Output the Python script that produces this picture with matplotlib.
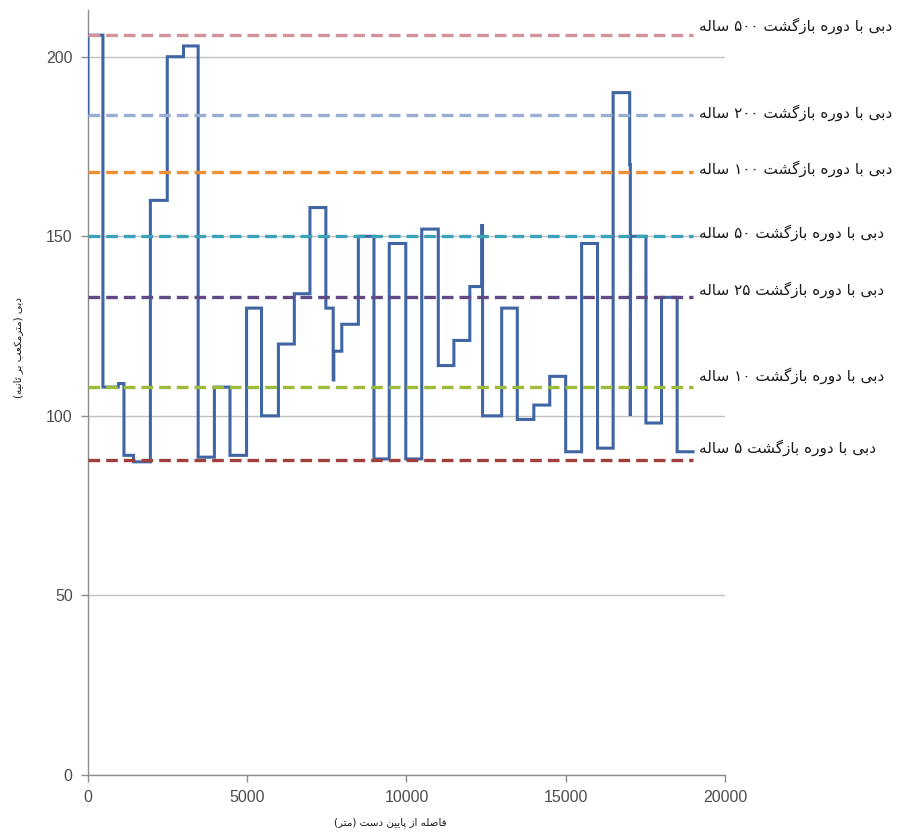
import matplotlib
matplotlib.use("Agg")
import matplotlib.pyplot as plt

# step profile of discharge along the reach
distance = [0, 0, 470, 470, 950, 960, 1130, 1130, 1430, 1430, 1960, 1960,
            2490, 2490, 3000, 3000, 3460, 3460, 3970, 3970, 4460, 4460,
            4980, 4980, 5450, 5450, 5980, 5980, 6480, 6480, 6970, 6970,
            7470, 7470, 7700, 7700, 7720, 7720, 7970, 7970, 8490, 8490,
            8980, 8980, 9460, 9460, 9980, 9980, 10480, 10480, 11000, 11000,
            11490, 11490, 11990, 11990, 12360, 12360, 12390, 12390, 12990,
            12990, 13480, 13480, 14000, 14000, 14500, 14500, 15000, 15000,
            15500, 15500, 16000, 16000, 16490, 16490, 17010, 17010, 17030,
            17030, 17040, 17520, 17520, 18010, 18010, 18500, 18500, 19000]
discharge = [184, 206, 206, 108, 108, 109, 109, 89, 89, 87.2, 87.2, 160,
             160, 200, 200, 203, 203, 88.5, 88.5, 108, 108, 89,
             89, 130, 130, 100, 100, 120, 120, 134, 134, 158,
             158, 130, 130, 110, 110, 118, 118, 125.5, 125.5, 150,
             150, 88, 88, 148, 148, 88, 88, 152, 152, 114,
             114, 121, 121, 136, 136, 153, 153, 100, 100,
             130, 130, 99, 99, 103, 103, 111, 111, 90,
             90, 148, 148, 91, 91, 190, 190, 170, 170,
             100, 150, 150, 98, 98, 133, 133, 90, 90]

# design discharges for return periods
return_periods = ["۵۰۰", "۲۰۰", "۱۰۰", "۵۰", "۲۵", "۱۰", "۵"]
design_q = [206.1, 183.9, 168.0, 150.0, 133.2, 107.9, 87.6]
line_end = 19000

line_colors = ["#d4939a", "#9aaed4", "#ef8f33", "#3aa3b8", "#5f4a86",
               "#9dbb3a", "#a13f3c"]
label_dy = [2.6, 0.5, 0.8, 1.0, 1.8, 3.4, 3.4]


# ---- minimal Persian shaping (presentation forms + visual order) ----
FORMS = {
    "ا": ("\uFE8D", "\uFE8E"), "د": ("\uFEA9", "\uFEAA"),
    "ر": ("\uFEAD", "\uFEAE"), "ز": ("\uFEAF", "\uFEB0"),
    "و": ("\uFEED", "\uFEEE"),
    "ب": ("\uFE8F", "\uFE90", "\uFE91", "\uFE92"),
    "ت": ("\uFE95", "\uFE96", "\uFE97", "\uFE98"),
    "ث": ("\uFE99", "\uFE9A", "\uFE9B", "\uFE9C"),
    "س": ("\uFEB1", "\uFEB2", "\uFEB3", "\uFEB4"),
    "ش": ("\uFEB5", "\uFEB6", "\uFEB7", "\uFEB8"),
    "ص": ("\uFEB9", "\uFEBA", "\uFEBB", "\uFEBC"),
    "ع": ("\uFEC9", "\uFECA", "\uFECB", "\uFECC"),
    "ف": ("\uFED1", "\uFED2", "\uFED3", "\uFED4"),
    "ل": ("\uFEDD", "\uFEDE", "\uFEDF", "\uFEE0"),
    "م": ("\uFEE1", "\uFEE2", "\uFEE3", "\uFEE4"),
    "ن": ("\uFEE5", "\uFEE6", "\uFEE7", "\uFEE8"),
    "ه": ("\uFEE9", "\uFEEA", "\uFEEB", "\uFEEC"),
    "پ": ("\uFB56", "\uFB57", "\uFB58", "\uFB59"),
    "ک": ("\uFB8E", "\uFB8F", "\uFB90", "\uFB91"),
    "گ": ("\uFB92", "\uFB93", "\uFB94", "\uFB95"),
    "ی": ("\uFBFC", "\uFBFD", "\uFBFE", "\uFBFF"),
}


def fa(text):
    out = []
    for i, ch in enumerate(text):
        if ch not in FORMS:
            out.append(ch)
            continue
        f = FORMS[ch]
        prev = text[i - 1] if i > 0 else ""
        nxt = text[i + 1] if i + 1 < len(text) else ""
        join_prev = prev in FORMS and len(FORMS[prev]) == 4
        join_next = nxt in FORMS and len(f) == 4
        if join_prev and join_next:
            out.append(f[3])
        elif join_prev:
            out.append(f[1])
        elif join_next:
            out.append(f[2])
        else:
            out.append(f[0])
    vis = "".join(out)[::-1]
    # keep digit runs left-to-right, mirror brackets
    res, run = [], ""
    for ch in vis:
        if ch.isdigit():
            run += ch
        else:
            res.append(run[::-1])
            run = ""
            res.append({"(": ")", ")": "("}.get(ch, ch))
    res.append(run[::-1])
    return "".join(res)


plt.rcParams["font.family"] = ["DejaVu Sans"]

fig = plt.figure(figsize=(9.04, 8.36), dpi=100)
ax = fig.add_axes([0.0973, 0.073, 0.7046, 0.915])

ax.plot(distance, discharge, color="#3f65a4", lw=2.2, zorder=3,
        solid_joinstyle="miter")

for q, c, rp, dy in zip(design_q, line_colors, return_periods, label_dy):
    ax.plot([0, line_end], [q, q], color=c, lw=2.4, dashes=(3.5, 1.8),
            zorder=4)
    ax.text(line_end + 200, q + dy, fa("دبی با دوره بازگشت " + rp + " ساله"),
            ha="left", va="center", fontsize=11, color="#1a1a1a")

ax.set_xlim(0, 20000)
ax.set_ylim(0, 213)
ax.set_xticks([0, 5000, 10000, 15000, 20000])
ax.set_yticks([0, 50, 100, 150, 200])
ax.grid(axis="y", color="#c0c0c0", lw=1)
ax.set_axisbelow(True)

for s in ["top", "right"]:
    ax.spines[s].set_visible(False)
for s in ["left", "bottom"]:
    ax.spines[s].set_color("#8c8c8c")
    ax.spines[s].set_linewidth(1)
ax.tick_params(length=5, width=1, color="#8c8c8c", labelcolor="#4d4d4d",
               labelsize=11.5, pad=6)
for lab in ax.get_xticklabels() + ax.get_yticklabels():
    lab.set_family(["Liberation Sans", "DejaVu Sans"])

fig.text(390 / 904, 1 - 823 / 836, fa("فاصله از پایین دست (متر)"),
         ha="center", va="center", fontsize=7.5, color="#1a1a1a")
fig.text(18 / 904, 1 - 347 / 836, fa("دبی (مترمکعب بر ثانیه)"),
         ha="center", va="center", rotation=90, fontsize=7.5,
         color="#1a1a1a")

plt.savefig("out.png", dpi=100)
